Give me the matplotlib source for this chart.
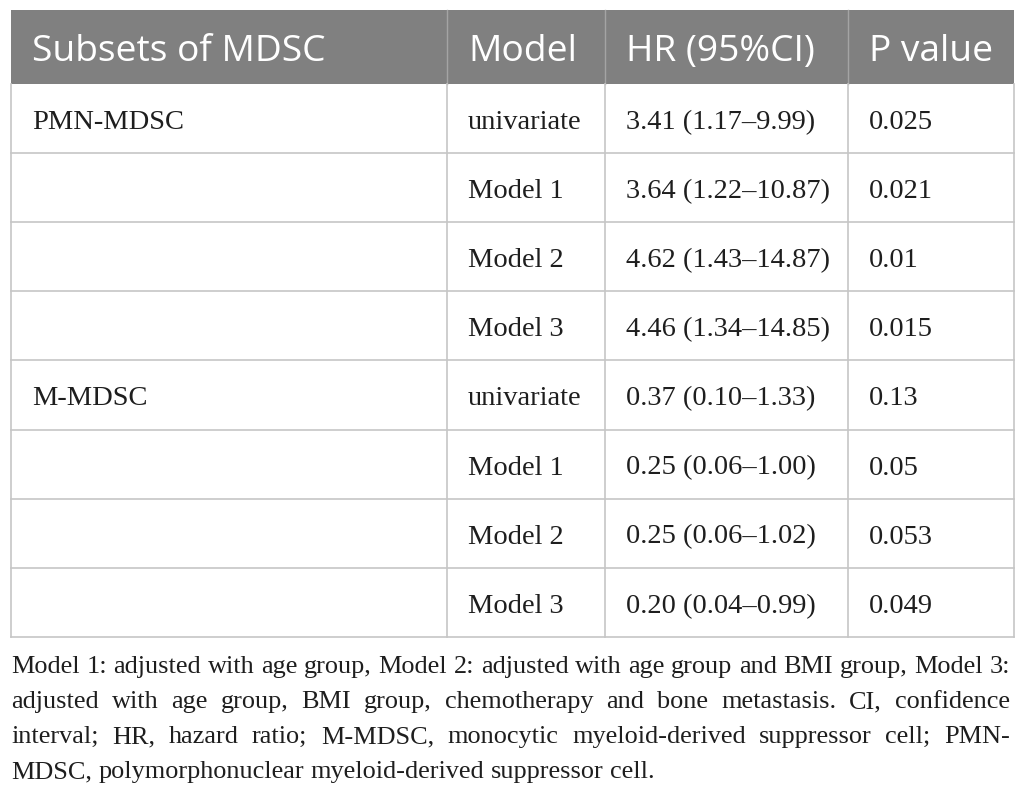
import matplotlib
matplotlib.use("Agg")
import matplotlib.pyplot as plt
from matplotlib.patches import Rectangle

# table content
headers = ["Subsets of MDSC", "Model", "HR (95%CI)", "P value"]
subsets = ["PMN-MDSC", "", "", "", "M-MDSC", "", "", ""]
models = ["univariate", "Model 1", "Model 2", "Model 3",
          "univariate", "Model 1", "Model 2", "Model 3"]
hr_ci = ["3.41 (1.17\u20139.99)", "3.64 (1.22\u201310.87)", "4.62 (1.43\u201314.87)",
         "4.46 (1.34\u201314.85)", "0.37 (0.10\u20131.33)", "0.25 (0.06\u20131.00)",
         "0.25 (0.06\u20131.02)", "0.20 (0.04\u20130.99)"]
p_values = ["0.025", "0.021", "0.01", "0.015", "0.13", "0.05", "0.053", "0.049"]
footnote_lines = [
    "Model 1: adjusted with age group, Model 2: adjusted with age group and BMI group, Model 3:",
    "adjusted with age group, BMI group, chemotherapy and bone metastasis. CI, confidence",
    "interval; HR, hazard ratio; M-MDSC, monocytic myeloid-derived suppressor cell; PMN-",
    "MDSC, polymorphonuclear myeloid-derived suppressor cell.",
]

W, H = 1026, 797
fig = plt.figure(figsize=(W / 100, H / 100), dpi=100)
ax = fig.add_axes([0, 0, 1, 1])
ax.set_xlim(0, W)
ax.set_ylim(H, 0)
ax.axis("off")

left, right = 11, 1014
col_edges = [left, 447, 605, 848, right]
head_top, head_bot = 10, 84
row_h = 69.1
grid_col = "#c6c6c6"
txt_col = "#1e1e1e"

# header band
ax.add_patch(Rectangle((left, head_top), right - left, head_bot - head_top,
                       facecolor="#808080", edgecolor="none"))
for x in col_edges[1:-1]:
    ax.plot([x, x], [head_top, head_bot], color="#a4a4a4", lw=1)

pad = 21
for i, h in enumerate(headers):
    ax.text(col_edges[i] + pad, head_top + 51, h, color="white",
            fontfamily="Open Sans", fontsize=26.7, va="baseline", ha="left")

# body rows
columns = [subsets, models, hr_ci, p_values]
n = len(models)
bottom = head_bot + n * row_h
for r in range(n):
    y0 = head_bot + r * row_h
    ax.plot([left, right], [y0 + row_h, y0 + row_h], color=grid_col, lw=1.2)
    for c, col in enumerate(columns):
        ax.text(col_edges[c] + pad, y0 + 45, col[r], color=txt_col,
                fontfamily="Liberation Serif", fontsize=20.5, va="baseline", ha="left")
for x in col_edges:
    ax.plot([x, x], [head_bot, bottom], color=grid_col, lw=1.2)

# justified footnote
fig.canvas.draw()
renderer = fig.canvas.get_renderer()
foot_right = 1010
probe = ax.text(0, 0, footnote_lines[0], fontfamily="Liberation Serif", fontsize=17)
foot_size = 17 * (foot_right - left) / probe.get_window_extent(renderer).width
probe.remove()
base = 673
for li, line in enumerate(footnote_lines):
    words = line.split(" ")
    y = base + li * 35
    tmp = [ax.text(0, y, w, fontfamily="Liberation Serif", fontsize=foot_size,
                   color=txt_col, va="baseline", ha="left") for w in words]
    widths = [t.get_window_extent(renderer).width for t in tmp]
    if li < len(footnote_lines) - 1:
        gap = (foot_right - left - sum(widths)) / (len(words) - 1)
    else:
        sp = ax.text(0, 0, "a a", fontfamily="Liberation Serif", fontsize=foot_size)
        sw = sp.get_window_extent(renderer).width
        sp.remove()
        a = ax.text(0, 0, "a", fontfamily="Liberation Serif", fontsize=foot_size)
        gap = sw - 2 * a.get_window_extent(renderer).width
        a.remove()
    x = left
    for t, wd in zip(tmp, widths):
        t.set_x(x)
        x += wd + gap

fig.savefig("out.png", dpi=100, facecolor="white")
